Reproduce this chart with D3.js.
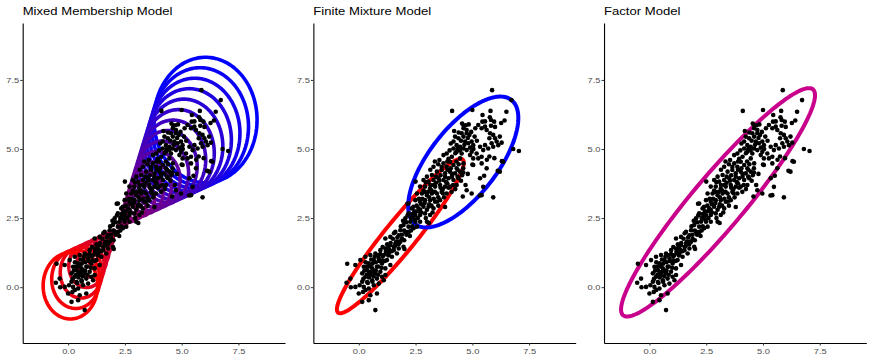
<!DOCTYPE html>
<html>
<head>
<meta charset="utf-8">
<script src="https://cdn.jsdelivr.net/npm/d3@7"></script>
<style>
  body { margin: 0; background: #fff; }
  svg { display: block; }
  text { font-family: "Liberation Sans", Arial, Helvetica, sans-serif; }
</style>
</head>
<body>
<svg width="872" height="363"></svg>
<script>

// panel titles and ticks
var titles = ["Mixed Membership Model", "Finite Mixture Model", "Factor Model"];
var xTicks = [0, 2.5, 5, 7.5];
var yTicks = [0, 2.5, 5, 7.5];
var xDomain = [-2.0, 9.55];
var yDomain = [-2.02, 9.56];

// observed points (x, y), same data in every panel
var points = [
  // upper cloud
  [5.87,7.13],[6.72,6.77],[4.11,6.38],[5.0,6.41],[5.8,6.38],[6.5,6.35],[5.45,6.23],[5.77,6.15],
  [5.44,5.99],[5.56,6.0],[5.82,6.05],[5.96,5.99],[6.27,5.94],[6.42,6.03],[5.26,5.87],[5.56,5.81],
  [5.82,5.84],[6.0,5.8],[4.71,5.86],[4.84,5.89],[4.61,5.75],[4.75,5.69],[4.53,5.57],[4.75,5.57],
  [4.87,5.51],[4.61,5.45],[4.39,5.39],[4.24,5.45],[4.17,5.27],[4.31,5.14],[4.46,5.08],[4.68,5.27],
  [4.82,5.21],[4.97,5.27],[5.04,5.14],[4.61,5.02],[4.75,4.96],[4.97,4.9],[4.9,4.78],[4.53,4.84],
  [4.31,4.9],[4.17,5.02],[3.87,4.84],[3.73,4.78],[4.1,4.72],[4.46,4.66],[5.41,5.75],[5.63,5.69],
  [5.78,5.57],[5.92,5.51],[5.75,5.39],[6.0,5.39],[6.21,5.45],[6.07,5.27],[5.85,5.21],[5.56,5.14],
  [5.34,5.08],[5.48,4.96],[5.7,5.02],[5.92,5.08],[6.14,5.14],[6.29,5.23],[5.41,4.72],[5.19,4.84],
  [5.04,4.66],[5.13,5.75],[4.62,5.84],[6.8,5.0],[7.05,4.93],[6.3,4.56],[6.12,4.21],[5.97,4.67],
  [5.75,4.73],[5.64,4.61],[5.26,4.66],[5.0,4.44],[4.4,5.6],[4.5,5.3],[4.65,5.15],[4.9,5.05],
  [4.35,5.0],[4.8,5.4],[4.95,5.62],[5.1,5.45],[5.2,5.3],[5.05,5.0],[4.25,4.85],[4.45,4.95],
  [4.05,5.2],[4.2,5.65],[4.55,5.92],[4.0,4.95],
  // middle band
  [4.61,4.48],[5.04,4.42],[5.41,4.48],[5.63,4.3],[6.21,4.18],[6.36,4.54],[5.34,3.94],[5.48,3.63],
  [4.75,3.51],[4.97,3.39],[5.41,3.33],[5.92,3.25],[5.52,4.03],[5.33,3.32],[4.58,3.28],[2.5,3.82],
  [2.14,3.02],[3.73,4.48],[3.87,4.36],[4.02,4.54],[4.17,4.42],[4.31,4.3],[3.65,4.24],[3.8,4.12],
  [4.02,4.18],[4.24,4.12],[4.46,4.18],[3.29,4.36],[3.44,4.18],[3.22,4.06],[3.0,4.0],[2.85,3.88],
  [3.07,3.82],[3.29,3.88],[3.51,3.94],[3.73,3.88],[3.95,3.94],[4.17,3.88],[4.39,3.94],[2.7,3.64],
  [2.92,3.64],[3.14,3.57],[3.36,3.64],[3.58,3.7],[3.8,3.64],[4.02,3.64],[4.31,3.7],[2.56,3.39],
  [2.78,3.39],[3.0,3.33],[3.22,3.39],[3.44,3.39],[3.65,3.45],[3.87,3.39],[4.09,3.45],[2.49,3.15],
  [2.7,3.09],[2.92,3.15],[3.14,3.15],[3.36,3.09],[3.58,3.15],[2.41,2.91],[2.63,2.85],[2.85,2.91],
  [3.07,2.91],[3.29,2.85],[2.49,2.61],[2.7,2.61],[2.92,2.67],[3.14,2.61],[2.49,2.37],[2.7,2.37],
  [3.0,2.37],[2.56,2.19],[3.09,2.32],[3.5,4.45],[3.15,4.25],[3.6,4.05],[3.9,4.25],[4.1,4.0],
  [2.95,3.8],[3.4,3.78],[3.7,3.55],[3.2,3.5],[2.85,3.5],[3.5,3.25],[3.1,3.0],[2.75,3.0],
  [3.3,3.2],[2.6,2.75],[2.95,2.5],[3.25,2.7],[3.5,2.95],[3.75,3.25],[3.95,3.6],[4.25,3.55],
  [4.4,4.45],[3.95,4.65],[3.55,4.6],[3.35,4.55],[4.6,4.3],[4.8,4.1],[4.5,3.85],[4.7,3.7],
  [4.55,4.05],[3.8,2.9],[2.35,2.65],[2.55,2.95],[2.8,3.2],[3.05,3.45],[3.3,3.7],[3.55,3.85],
  [3.8,4.0],[4.05,4.3],[4.3,4.55],[2.65,3.2],[2.9,3.45],[3.15,3.7],[3.4,4.0],[3.65,4.35],
  [3.9,4.55],[2.45,2.45],[2.75,2.7],[3.0,2.8],[3.2,2.95],[3.45,3.1],[3.7,3.4],[3.9,3.75],
  [4.15,3.7],[4.35,4.0],[4.6,4.15],[2.9,3.05],[3.1,3.25],[3.35,3.45],[3.6,3.6],[3.85,3.8],
  [4.1,4.1],[4.35,4.25],
  // lower band
  [2.19,3.03],[2.34,2.85],[2.19,2.67],[2.41,2.55],[2.05,2.49],[2.27,2.37],[1.97,2.25],[2.19,2.19],
  [1.83,2.06],[2.05,2.0],[1.61,2.0],[1.76,1.88],[1.39,1.82],[1.17,1.76],[2.41,2.13],[1.4,1.6],
  [1.5,1.75],[1.6,1.5],[1.7,1.8],[1.8,1.65],[1.9,1.9],[1.85,2.2],[2.0,2.05],[2.1,2.35],
  [2.2,2.0],[2.3,2.5],[2.35,2.2],[2.45,2.75],[2.6,2.5],[2.7,2.8],[2.25,1.85],[2.15,2.6],
  [1.95,2.4],[1.3,1.45],[1.45,1.3],[1.55,1.95],[1.2,1.25],[2.0,1.7],[2.01,1.38],[1.75,1.55],
  [1.9,1.75],[2.1,1.9],[2.3,2.05],[1.35,1.35],[1.55,1.45],[1.65,1.65],[1.25,1.55],[1.05,1.45],
  // lowest cloud
  [-0.51,0.85],[-0.15,0.8],[-0.54,0.16],[-0.37,0.31],[-0.15,0.01],[0.04,0.07],[0.0,-0.23],[0.19,-0.17],
  [0.15,-0.53],[0.44,-0.47],[0.51,-0.29],[0.8,-0.23],[0.73,-0.83],[-0.35,0.0],[0.07,0.98],[0.29,1.1],
  [0.51,1.16],[0.73,1.22],[0.95,1.34],[1.17,1.4],[1.39,1.52],[1.61,1.58],[1.83,1.64],[1.97,1.46],
  [1.76,1.4],[1.54,1.34],[1.32,1.22],[1.1,1.16],[0.88,1.04],[0.66,0.98],[0.44,0.86],[0.22,0.74],
  [0.37,0.62],[0.59,0.68],[0.8,0.74],[1.02,0.86],[1.24,0.98],[1.46,1.1],[1.68,1.22],[0.15,0.5],
  [0.29,0.38],[0.51,0.44],[0.73,0.5],[0.95,0.56],[1.17,0.68],[1.39,0.8],[0.37,0.19],[0.59,0.25],
  [0.8,0.31],[1.02,0.38],[0.22,0.01],[0.44,-0.05],[0.66,0.07],[0.88,0.13],[1.1,0.25],[1.17,0.44],
  [0.3,0.9],[0.45,0.55],[0.6,0.85],[0.75,0.6],[0.9,0.95],[1.05,1.1],[1.2,1.3],[0.35,0.45],
  [0.5,0.75],[0.65,0.4],[0.85,0.45],[1.0,0.7],[0.25,0.6],[0.55,1.0],[0.7,1.1],[0.95,1.2],
  [1.15,0.95],[1.3,1.15],[0.2,0.3],[0.4,0.15],[0.6,0.2],[0.3,-0.1],[0.85,1.15],[0.65,0.6],
  [0.45,0.35],[0.75,0.9],[0.15,0.2],[0.55,0.55],[0.85,0.75],[1.05,0.95],[0.35,0.75]
];

// mixed membership: red end and blue end circles (centre x, centre y, radius)
var mmStart = [0.1, 0.05, 1.2];
var mmEnd = [6.05, 6.05, 2.27];
var mmSteps = 25;

// finite mixture ellipses: centre x, centre y, semi-major, semi-minor, angle (deg)
var fmEllipses = [[1.83, 1.85, 3.9, 0.63, 45], [4.6, 4.53, 3.1, 1.37, 44]];
var fmColours = ["#FF0000", "#0000FF"];

// factor model ellipse
var faEllipse = [3.02, 3.07, 5.85, 1.05, 44];
var faColour = "#C8008C";


var svg = d3.select("svg"),
  panelW = 872 / 3,
  margin = {top: 23, left: 22.7, bottom: 20},
  width = 262.3,
  height = 363 - margin.top - margin.bottom,
  stretch = 1.26;

var x = d3.scaleLinear().domain(xDomain).range([0, width]);
var y = d3.scaleLinear().domain(yDomain).range([height, 0]);

var line = d3.line()
  .x(function(d) { return x(d[0]); })
  .y(function(d) { return y(d[1]); })
  .curve(d3.curveLinearClosed);

function ellipsePoints(cx, cy, a, b, angle) {
  var th = angle * Math.PI / 180, pts = [];
  for (var i = 0; i < 180; i++) {
    var p = 2 * Math.PI * i / 180;
    pts.push([cx + a * Math.cos(p) * Math.cos(th) - b * Math.sin(p) * Math.sin(th),
              cy + a * Math.cos(p) * Math.sin(th) + b * Math.sin(p) * Math.cos(th)]);
  }
  return pts;
}

for (var j = 0; j < titles.length; j++) {

  var g = svg.append("g")
    .attr("transform", "translate(" + (panelW * j + margin.left) + "," + margin.top + ")");

  var curves = g.append("g").attr("class", "curves");

  if (j == 0) {
    // blue end first, red end drawn last
    var col = d3.interpolateRgb("#FF0000", "#0000FF");
    for (var k = mmSteps; k >= 0; k--) {
      var t = k / mmSteps;
      var cx = mmStart[0] + t * (mmEnd[0] - mmStart[0]),
        cy = mmStart[1] + t * (mmEnd[1] - mmStart[1]),
        r = Math.abs((1 - t) * mmStart[2] - t * mmEnd[2]);
      if (r < 0.02) continue;
      curves.append("path")
        .attr("d", line(ellipsePoints(cx, cy, r, r, 0)))
        .attr("fill", "none")
        .attr("stroke", col(t))
        .attr("stroke-width", 3.6);
    }
  } else if (j == 1) {
    fmEllipses.forEach(function(e, i) {
      curves.append("path")
        .attr("d", line(ellipsePoints(e[0], e[1], e[2], e[3], e[4])))
        .attr("fill", "none")
        .attr("stroke", fmColours[i])
        .attr("stroke-width", 4);
    });
  } else {
    curves.append("path")
      .attr("d", line(ellipsePoints(faEllipse[0], faEllipse[1], faEllipse[2], faEllipse[3], faEllipse[4])))
      .attr("fill", "none")
      .attr("stroke", faColour)
      .attr("stroke-width", 4);
  }

  g.append("g").attr("class", "dots")
    .selectAll("circle").data(points).enter().append("circle")
    .attr("cx", function(d) { return x(d[0]); })
    .attr("cy", function(d) { return y(d[1]); })
    .attr("r", 2.3)
    .attr("fill", "#000");

  //axes
  var xa = g.append("g")
    .attr("transform", "translate(0," + height + ")")
    .call(d3.axisBottom(x).tickValues(xTicks).tickFormat(d3.format(".1f"))
      .tickSize(2.5).tickSizeOuter(0).tickPadding(3.5));
  var ya = g.append("g")
    .call(d3.axisLeft(y).tickValues(yTicks).tickFormat(d3.format(".1f"))
      .tickSize(2.5).tickSizeOuter(0).tickPadding(1));

  [xa, ya].forEach(function(a) {
    a.select(".domain").attr("stroke", "#000").attr("stroke-width", 1.1);
    a.selectAll(".tick line").attr("stroke", "#333");
    a.selectAll(".tick text").attr("fill", "#4D4D4D").style("font-size", "7.4px")
      .attr("font-family", null);
  });
  xa.selectAll(".tick text").attr("transform", "scale(" + stretch + ",1)");
  ya.selectAll(".tick text").attr("x", -3.5 / stretch).attr("transform", "scale(" + stretch + ",1)");

  g.append("text")
    .attr("class", "title")
    .attr("transform", "translate(0," + (14.8 - margin.top) + ") scale(" + stretch + ",1)")
    .style("font-size", "10.4px")
    .attr("fill", "#000")
    .text(titles[j]);
}

</script>
</body>
</html>
